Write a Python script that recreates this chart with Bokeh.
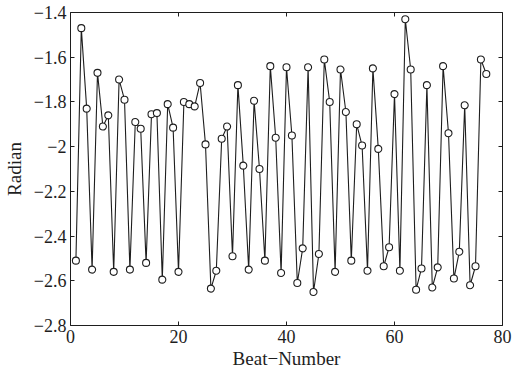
from bokeh.plotting import figure
from bokeh.models import LinearAxis, FixedTicker, Range1d, CustomJSTickFormatter
from bokeh.embed import file_html
from bokeh.resources import INLINE

# Phase angle (radian) for each beat
beat_number = list(range(1, 78))
radian = [
    -2.51, -1.47, -1.83, -2.55, -1.67, -1.91, -1.86, -2.56, -1.70, -1.79,
    -2.55, -1.89, -1.92, -2.52, -1.855, -1.85, -2.595, -1.81, -1.915, -2.56,
    -1.80, -1.81, -1.82, -1.715, -1.99, -2.635, -2.555, -1.965, -1.91, -2.49,
    -1.725, -2.085, -2.55, -1.795, -2.10, -2.51, -1.64, -1.96, -2.565, -1.645,
    -1.95, -2.61, -2.455, -1.645, -2.65, -2.48, -1.61, -1.80, -2.56, -1.655,
    -1.845, -2.51, -1.90, -1.995, -2.555, -1.65, -2.01, -2.535, -2.45, -1.765,
    -2.555, -1.43, -1.655, -2.64, -2.545, -1.725, -2.63, -2.54, -1.64, -1.94,
    -2.59, -2.47, -1.815, -2.62, -2.535, -1.61, -1.675,
]

x_ticks = [0, 20, 40, 60, 80]
y_ticks = [-2.8, -2.6, -2.4, -2.2, -2.0, -1.8, -1.6, -1.4]

FONT = "Liberation Serif"
INK = "#1e1e1e"

p = figure(
    width=513, height=371,
    output_backend="svg", toolbar_location=None,
    x_range=Range1d(0, 80), y_range=Range1d(-2.8, -1.4),
    x_axis_location="below", y_axis_location="left",
    min_border_left=69, min_border_right=11,
    min_border_top=12, min_border_bottom=44,
)
p.background_fill_color = "white"
p.border_fill_color = "white"
p.outline_line_color = INK
p.outline_line_width = 1
p.grid.visible = False

# Tick labels use a true minus sign
fmt = CustomJSTickFormatter(code="""
    let s = (Math.abs(tick) < 1e-9) ? "0" : (Number.isInteger(tick) ? tick.toString() : tick.toFixed(1));
    if (s.endsWith(".0")) s = s.slice(0, -2);
    return s.replace("-", "\u2212");
""")

def style_axis(ax, ticks, show_labels):
    ax.ticker = FixedTicker(ticks=ticks)
    ax.formatter = fmt
    ax.major_tick_in = 4
    ax.major_tick_out = 0
    ax.minor_tick_line_color = None
    ax.axis_line_color = None
    ax.major_tick_line_color = INK
    ax.major_label_text_font = FONT
    ax.major_label_text_font_size = "18px"
    ax.major_label_text_color = INK if show_labels else None
    ax.major_label_standoff = 4
    ax.axis_label_text_font = FONT
    ax.axis_label_text_font_size = "19px"
    ax.axis_label_text_font_style = "normal"
    ax.axis_label_text_color = INK

style_axis(p.xaxis[0], x_ticks, True)
style_axis(p.yaxis[0], y_ticks, True)
p.xaxis[0].axis_label = "Beat\u2212Number"
p.xaxis[0].axis_label_standoff = 2
p.yaxis[0].axis_label = "Radian"
p.yaxis[0].axis_label_standoff = 6

top_axis = LinearAxis()
style_axis(top_axis, x_ticks, False)
top_axis.major_label_text_font_size = "0px"
top_axis.major_label_standoff = 0
p.add_layout(top_axis, "above")

right_axis = LinearAxis()
style_axis(right_axis, y_ticks, False)
right_axis.major_label_text_font_size = "0px"
right_axis.major_label_standoff = 0
p.add_layout(right_axis, "right")

p.line(beat_number, radian, line_color=INK, line_width=1.1)
p.scatter(beat_number, radian, marker="circle", size=7,
          fill_color="white", line_color=INK, line_width=1.1)

open("out.html", "w").write(file_html(p, INLINE))
